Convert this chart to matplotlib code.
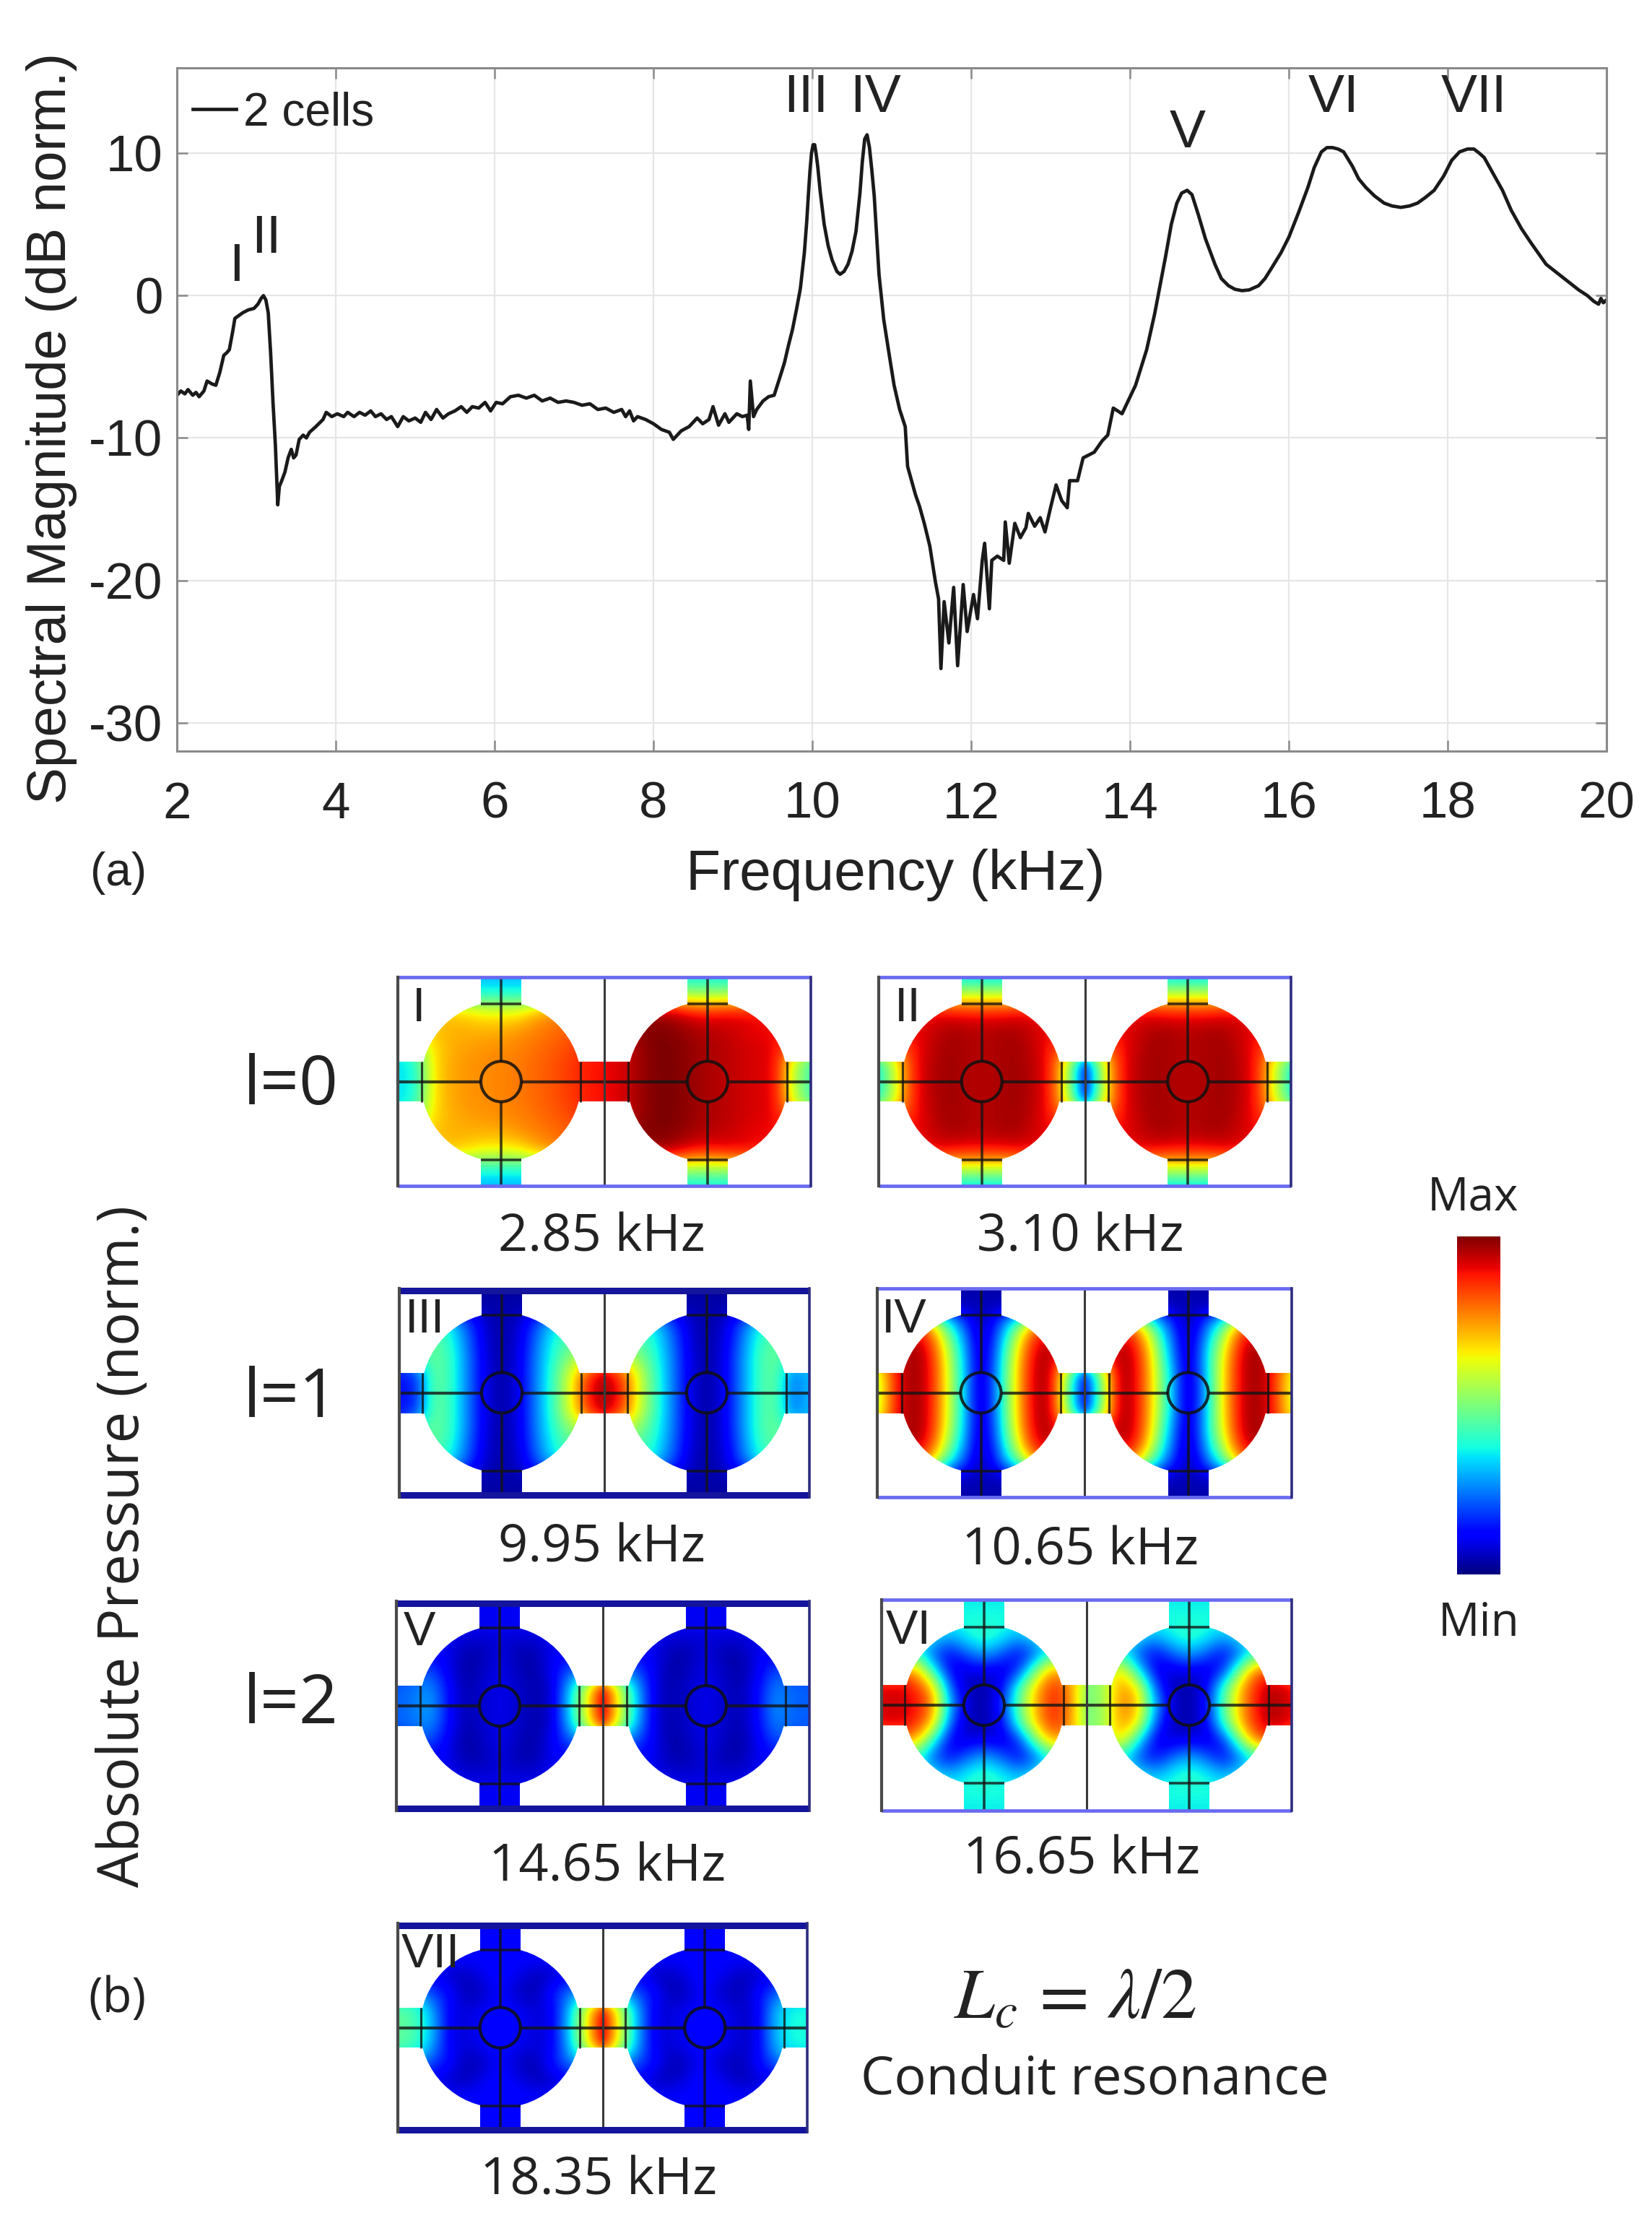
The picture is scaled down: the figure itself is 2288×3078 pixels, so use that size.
import numpy as np
import matplotlib
matplotlib.use("Agg")
import matplotlib.pyplot as plt
from matplotlib.patches import Circle, Rectangle
from matplotlib import cm

W_PX = 2288
H_PX = 3078

# ---------- spectrum, panel (a) ----------
freq_khz = [
    2.00, 2.05, 2.10, 2.14, 2.20, 2.24, 2.28, 2.34, 2.38, 2.44, 2.49, 2.54, 2.59, 2.63, 2.66, 2.70, 2.73, 2.78, 2.83, 2.90,
    2.97, 3.02, 3.06, 3.09, 3.12, 3.15, 3.18, 3.21, 3.24, 3.27, 3.29, 3.32, 3.36, 3.40, 3.44, 3.47, 3.50, 3.54, 3.59, 3.63,
    3.67, 3.75, 3.84, 3.88, 3.95, 4.02, 4.10, 4.15, 4.23, 4.30, 4.37, 4.44, 4.50, 4.57, 4.64, 4.70, 4.78, 4.85, 4.92, 5.00,
    5.07, 5.13, 5.20, 5.27, 5.35, 5.42, 5.50, 5.58, 5.65, 5.72, 5.80, 5.88, 5.95, 6.02, 6.10, 6.20, 6.30, 6.40, 6.50, 6.60,
    6.70, 6.80, 6.90, 7.00, 7.10, 7.20, 7.30, 7.40, 7.50, 7.60, 7.65, 7.70, 7.75, 7.80, 7.90, 8.00, 8.10, 8.20, 8.25, 8.35,
    8.45, 8.55, 8.62, 8.70, 8.75, 8.82, 8.90, 8.95, 9.05, 9.12, 9.18, 9.20, 9.22, 9.26, 9.30, 9.38, 9.45, 9.52, 9.60, 9.65,
    9.70, 9.75, 9.80, 9.85, 9.90, 9.93, 9.95, 9.97, 9.99, 10.01, 10.03, 10.05, 10.07, 10.10, 10.15, 10.20, 10.25, 10.31, 10.35, 10.40,
    10.45, 10.50, 10.55, 10.60, 10.63, 10.66, 10.69, 10.72, 10.75, 10.78, 10.84, 10.90, 10.97, 11.03, 11.10, 11.17,
    11.20, 11.30, 11.35, 11.41, 11.48, 11.55, 11.59, 11.62, 11.66, 11.72, 11.78, 11.83, 11.90, 11.95, 12.03, 12.08, 12.14, 12.17, 12.23, 12.26,
    12.33, 12.41, 12.43, 12.48, 12.55, 12.62, 12.69, 12.72, 12.80, 12.87, 12.93, 13.00, 13.07, 13.14, 13.21, 13.24, 13.34, 13.41, 13.55, 13.65,
    13.72, 13.79, 13.90, 14.07, 14.21, 14.31, 14.45, 14.52, 14.59, 14.65, 14.72, 14.78, 14.86, 14.95, 15.07, 15.15, 15.24, 15.32, 15.41, 15.50,
    15.62, 15.70, 15.79, 15.90, 16.00, 16.12, 16.24, 16.32, 16.41, 16.48, 16.55, 16.62, 16.69, 16.80, 16.88, 16.97, 17.08, 17.20, 17.30, 17.41,
    17.52, 17.62, 17.72, 17.83, 17.95, 18.05, 18.15, 18.25, 18.33, 18.40, 18.46, 18.55, 18.69, 18.80, 18.93, 19.05, 19.24, 19.40, 19.55, 19.65,
    19.76, 19.84, 19.90, 19.93, 19.96, 20.00,
]
mag_db = [
    -7.0, -6.7, -6.9, -6.6, -7.0, -6.8, -7.1, -6.7, -6.0, -6.2, -6.3, -5.4, -4.2, -4.0, -3.8, -2.6, -1.6, -1.4, -1.2, -1.0,
    -0.9, -0.6, -0.2, 0.0, -0.3, -1.2, -4.0, -7.5, -10.5, -14.7, -13.4, -13.0, -12.4, -11.4, -10.8, -11.4, -11.2, -10.1, -9.8, -10.0,
    -9.6, -9.2, -8.7, -8.2, -8.5, -8.3, -8.5, -8.2, -8.5, -8.2, -8.4, -8.1, -8.5, -8.3, -8.7, -8.5, -9.2, -8.5, -8.8, -8.6,
    -8.9, -8.2, -8.7, -8.0, -8.6, -8.3, -8.1, -7.8, -8.2, -7.8, -7.9, -7.5, -8.1, -7.5, -7.6, -7.1, -7.0, -7.2, -7.0, -7.4,
    -7.2, -7.5, -7.4, -7.5, -7.7, -7.6, -8.0, -7.9, -8.2, -8.0, -8.5, -8.1, -8.8, -8.5, -8.7, -9.0, -9.4, -9.6, -10.1, -9.5,
    -9.2, -8.6, -9.0, -8.7, -7.8, -9.1, -8.3, -8.9, -8.3, -8.5, -8.4, -9.4, -6.0, -8.5, -8.0, -7.4, -7.1, -7.0, -5.6, -4.7,
    -3.5, -2.4, -1.0, 0.5, 3.0, 5.2, 7.0, 8.7, 10.0, 10.6, 10.6, 9.9, 9.0, 7.3, 5.0, 3.5, 2.5, 1.7, 1.5, 1.7,
    2.2, 3.1, 4.5, 7.2, 9.4, 11.0, 11.3, 10.4, 8.8, 7.0, 1.5, -1.7, -4.2, -6.3, -8.0, -9.2,
    -12.0, -14.0, -14.8, -16.0, -17.6, -20.1, -21.3, -26.2, -21.5, -24.4, -20.5, -26.0, -20.3, -23.6, -21.0, -22.7, -18.6, -17.4, -22.0, -18.6,
    -18.3, -18.6, -15.9, -18.8, -16.0, -17.0, -16.3, -15.3, -16.2, -15.6, -16.6, -14.9, -13.3, -14.4, -14.9, -13.0, -13.0, -11.4, -11.0, -10.2,
    -9.8, -7.9, -8.3, -6.3, -3.8, -1.3, 2.8, 5.0, 6.5, 7.2, 7.4, 7.1, 5.7, 4.0, 2.2, 1.2, 0.7, 0.45, 0.35, 0.4,
    0.7, 1.2, 2.0, 3.0, 4.1, 5.8, 7.6, 9.0, 10.1, 10.4, 10.4, 10.3, 10.1, 9.1, 8.2, 7.6, 7.0, 6.5, 6.3, 6.2,
    6.3, 6.5, 6.9, 7.4, 8.4, 9.5, 10.1, 10.3, 10.3, 10.0, 9.7, 8.8, 7.4, 6.0, 4.7, 3.7, 2.2, 1.5, 0.85, 0.4,
    0.0, -0.4, -0.6, -0.2, -0.5, -0.3,
]
x_ticks = [2, 4, 6, 8, 10, 12, 14, 16, 18, 20]
y_ticks = [-30, -20, -10, 0, 10]
peak_names = ["I", "II", "III", "IV", "V", "VI", "VII"]
peak_freqs = [2.75, 3.13, 9.92, 10.80, 14.72, 16.56, 18.33]
peak_levels = [2.0, 4.0, 13.9, 13.9, 11.4, 13.9, 13.9]

# ---------- pressure fields, panel (b), in % of the colour scale ----------
# one cell: 7 rows from the centre line up to the frame, 13 columns left to right
I_left = [
    [35, 37, 66, 73, 75, 76, 77, 78, 80, 82, 85, 88, 90],
    [35, 37, 66, 73, 75, 76, 77, 78, 80, 82, 85, 88, 90],
    [36, 50, 67, 72, 74, 75, 76, 77, 79, 81, 83, 86, 88],
    [60, 65, 70, 72, 72, 72, 72, 75, 77, 79, 81, 84, 84],
    [70, 70, 70, 70, 68, 64, 64, 64, 72, 76, 78, 80, 80],
    [40, 40, 40, 40, 40, 40, 40, 40, 40, 40, 40, 40, 40],
    [30, 30, 30, 30, 30, 30, 30, 30, 30, 30, 30, 30, 30],
]
I_right = [
    [90, 92, 97, 100, 100, 98, 96, 95, 93, 92, 90, 58, 42],
    [90, 92, 97, 100, 100, 98, 96, 95, 93, 92, 90, 58, 42],
    [90, 92, 97, 100, 100, 98, 96, 95, 93, 92, 90, 80, 60],
    [95, 97, 99, 100, 99, 97, 95, 94, 92, 90, 90, 85, 80],
    [97, 97, 97, 97, 95, 90, 88, 90, 90, 90, 90, 90, 90],
    [58, 58, 58, 58, 58, 55, 55, 55, 58, 58, 58, 58, 58],
    [36, 36, 36, 36, 36, 36, 36, 36, 36, 36, 36, 36, 36],
]
II_left = [
    [36, 62, 88, 95, 97, 96, 95, 96, 97, 95, 88, 58, 12],
    [36, 62, 88, 95, 97, 96, 95, 96, 97, 95, 88, 58, 12],
    [70, 80, 88, 94, 97, 96, 95, 96, 97, 94, 88, 80, 70],
    [90, 90, 90, 93, 96, 96, 95, 96, 96, 93, 90, 90, 90],
    [90, 90, 90, 90, 90, 88, 88, 88, 90, 90, 90, 90, 90],
    [60, 60, 60, 60, 60, 60, 60, 60, 60, 60, 60, 60, 60],
    [34, 34, 34, 34, 34, 34, 34, 34, 34, 34, 34, 34, 34],
]
II_right = [
    [12, 58, 88, 95, 97, 96, 95, 96, 97, 95, 88, 62, 36],
    [12, 58, 88, 95, 97, 96, 95, 96, 97, 95, 88, 62, 36],
    [70, 80, 88, 94, 97, 96, 95, 96, 97, 94, 88, 80, 70],
    [90, 90, 90, 93, 96, 96, 95, 96, 96, 93, 90, 90, 90],
    [90, 90, 90, 90, 90, 88, 88, 88, 90, 90, 90, 90, 90],
    [60, 60, 60, 60, 60, 60, 60, 60, 60, 60, 60, 60, 60],
    [34, 34, 34, 34, 34, 34, 34, 34, 34, 34, 34, 34, 34],
]
III_left = [
    [14, 15, 48, 42, 25, 9, 3, 9, 25, 42, 62, 88, 97],
    [14, 15, 48, 42, 25, 9, 3, 9, 25, 42, 62, 86, 97],
    [20, 40, 48, 42, 25, 9, 3, 9, 25, 40, 52, 60, 70],
    [40, 45, 47, 40, 23, 8, 3, 8, 23, 38, 45, 50, 50],
    [40, 40, 42, 36, 20, 7, 3, 7, 20, 34, 40, 40, 40],
    [4, 4, 4, 4, 4, 4, 4, 4, 4, 4, 4, 4, 4],
    [3, 3, 3, 3, 3, 3, 3, 3, 3, 3, 3, 3, 3],
]
III_right = [
    [97, 88, 62, 42, 25, 9, 3, 9, 25, 42, 48, 22, 32],
    [97, 86, 62, 42, 25, 9, 3, 9, 25, 42, 48, 22, 32],
    [70, 60, 52, 40, 25, 9, 3, 9, 25, 42, 48, 40, 30],
    [50, 50, 45, 38, 23, 8, 3, 8, 23, 40, 47, 45, 40],
    [40, 40, 40, 34, 20, 7, 3, 7, 20, 36, 42, 40, 40],
    [4, 4, 4, 4, 4, 4, 4, 4, 4, 4, 4, 4, 4],
    [3, 3, 3, 3, 3, 3, 3, 3, 3, 3, 3, 3, 3],
]
IV_left = [
    [55, 88, 98, 92, 66, 33, 3, 30, 66, 93, 97, 50, 10],
    [55, 88, 98, 92, 66, 33, 3, 30, 66, 93, 97, 50, 10],
    [70, 90, 98, 92, 64, 32, 3, 28, 64, 92, 97, 80, 60],
    [85, 95, 97, 88, 58, 28, 3, 24, 58, 88, 95, 90, 85],
    [60, 75, 80, 75, 42, 20, 3, 18, 42, 72, 80, 70, 60],
    [5, 5, 5, 5, 5, 5, 5, 5, 5, 5, 5, 5, 5],
    [4, 4, 4, 4, 4, 4, 4, 4, 4, 4, 4, 4, 4],
]
IV_right = [
    [10, 50, 97, 92, 66, 33, 3, 30, 66, 92, 98, 88, 60],
    [10, 50, 97, 92, 66, 33, 3, 30, 66, 92, 98, 88, 60],
    [60, 80, 97, 92, 64, 28, 3, 32, 64, 92, 98, 90, 70],
    [85, 90, 95, 88, 58, 24, 3, 28, 58, 88, 97, 95, 85],
    [60, 70, 80, 72, 42, 18, 3, 20, 42, 75, 80, 75, 60],
    [5, 5, 5, 5, 5, 5, 5, 5, 5, 5, 5, 5, 5],
    [4, 4, 4, 4, 4, 4, 4, 4, 4, 4, 4, 4, 4],
]
V_left = [
    [22, 24, 30, 13, 4, 7, 10, 7, 4, 6, 32, 60, 95],
    [22, 24, 28, 13, 4, 7, 10, 7, 4, 6, 30, 60, 95],
    [15, 20, 20, 10, 3, 6, 10, 6, 3, 10, 20, 25, 40],
    [12, 12, 12, 10, 4, 4, 9, 4, 4, 10, 12, 12, 12],
    [11, 11, 11, 10, 8, 8, 8, 8, 8, 10, 11, 11, 11],
    [11, 11, 11, 11, 11, 11, 11, 11, 11, 11, 11, 11, 11],
    [10, 10, 10, 10, 10, 10, 10, 10, 10, 10, 10, 10, 10],
]
V_right = [
    [95, 60, 32, 8, 4, 7, 10, 7, 4, 12, 28, 22, 22],
    [95, 60, 30, 8, 4, 7, 10, 7, 4, 12, 26, 22, 22],
    [40, 25, 20, 10, 3, 6, 10, 6, 3, 10, 20, 20, 18],
    [12, 12, 12, 10, 4, 4, 9, 4, 4, 10, 12, 12, 12],
    [11, 11, 11, 10, 8, 8, 8, 8, 8, 10, 11, 11, 11],
    [11, 11, 11, 11, 11, 11, 11, 11, 11, 11, 11, 11, 11],
    [10, 10, 10, 10, 10, 10, 10, 10, 10, 10, 10, 10, 10],
]
VI_left = [
    [92, 93, 90, 78, 30, 8, 3, 15, 45, 72, 88, 78, 50],
    [92, 93, 88, 72, 22, 5, 3, 10, 42, 70, 88, 78, 50],
    [70, 75, 75, 40, 10, 8, 10, 8, 15, 50, 76, 70, 60],
    [35, 35, 40, 20, 12, 22, 30, 22, 12, 20, 40, 38, 38],
    [38, 38, 38, 38, 30, 38, 42, 38, 30, 38, 38, 38, 38],
    [38, 38, 38, 38, 38, 38, 38, 38, 38, 38, 38, 38, 38],
    [36, 36, 36, 36, 36, 36, 36, 36, 36, 36, 36, 36, 36],
]
VI_right = [
    [50, 53, 78, 72, 30, 8, 3, 12, 45, 72, 90, 97, 90],
    [50, 53, 76, 68, 22, 5, 3, 10, 42, 72, 90, 97, 90],
    [50, 55, 70, 38, 10, 8, 10, 8, 15, 52, 82, 80, 70],
    [35, 35, 38, 20, 12, 22, 30, 22, 12, 22, 42, 38, 38],
    [38, 38, 38, 38, 30, 38, 42, 38, 30, 38, 38, 38, 38],
    [38, 38, 38, 38, 38, 38, 38, 38, 38, 38, 38, 38, 38],
    [36, 36, 36, 36, 36, 36, 36, 36, 36, 36, 36, 36, 36],
]
VII_left = [
    [47, 44, 32, 10, 8, 11, 13, 11, 8, 9, 32, 62, 95],
    [47, 44, 30, 10, 8, 11, 13, 11, 8, 9, 30, 62, 95],
    [30, 30, 18, 14, 4, 6, 12, 6, 4, 14, 24, 30, 40],
    [12, 12, 12, 6, 5, 10, 13, 10, 5, 6, 12, 12, 12],
    [12, 12, 12, 12, 12, 12, 12, 12, 12, 12, 12, 12, 12],
    [11, 11, 11, 11, 11, 11, 11, 11, 11, 11, 11, 11, 11],
    [11, 11, 11, 11, 11, 11, 11, 11, 11, 11, 11, 11, 11],
]
VII_right = [
    [95, 60, 30, 9, 8, 11, 13, 11, 7, 8, 30, 38, 38],
    [95, 60, 30, 9, 8, 11, 13, 11, 7, 8, 30, 38, 38],
    [40, 30, 20, 14, 4, 6, 12, 6, 4, 12, 20, 30, 30],
    [12, 12, 12, 6, 5, 10, 13, 10, 5, 6, 12, 12, 12],
    [12, 12, 12, 12, 12, 12, 12, 12, 12, 12, 12, 12, 12],
    [11, 11, 11, 11, 11, 11, 11, 11, 11, 11, 11, 11, 11],
    [11, 11, 11, 11, 11, 11, 11, 11, 11, 11, 11, 11, 11],
]

# name, left field, right field, caption, x0, x1, y0, y1 (pixels), heavy blue border, label offset
mode_panels = [
    ("I", I_left, I_right, "2.85 kHz", 551, 1123, 1353, 1642, False, 20),
    ("II", II_left, II_right, "3.10 kHz", 1217, 1788, 1353, 1642, False, 22),
    ("III", III_left, III_right, "9.95 kHz", 553, 1121, 1784, 2073, True, 8),
    ("IV", IV_left, IV_right, "10.65 kHz", 1215, 1789, 1784, 2073, False, 6),
    ("V", V_left, V_right, "14.65 kHz", 549, 1121, 2217, 2507, True, 10),
    ("VI", VI_left, VI_right, "16.65 kHz", 1221, 1789, 2215, 2507, False, 6),
    ("VII", VII_left, VII_right, "18.35 kHz", 551, 1118, 2663, 2952, True, 5),
]
caption_centres = [(833, 1714), (1496, 1714), (833, 2144), (1496, 2148), (841, 2586), (1498, 2576), (829, 3020)]

AXIS_FONT = "Liberation Sans"
NOTE_FONT = "Open Sans"
DARK = "#222222"

plt.rcParams["mathtext.fontset"] = "stix"
plt.rcParams["axes.unicode_minus"] = False
fig = plt.figure(figsize=(W_PX / 100, H_PX / 100), dpi=100, facecolor="white")


def px_axes(x0, y0, x1, y1):
    return fig.add_axes([x0 / W_PX, 1 - y1 / H_PX, (x1 - x0) / W_PX, (y1 - y0) / H_PX])


def px_text(x, y, s, size, font=NOTE_FONT, **kw):
    fig.text(x / W_PX, 1 - y / H_PX, s, fontsize=size, family=font, color=DARK,
             ha="center", va="center", **kw)


# ---------- panel (a) ----------
ax = px_axes(245, 94, 2225, 1040)
ax.plot(freq_khz, mag_db, color="#1a1a1a", lw=3.4, label="2 cells")
ax.set_xlim(2, 20)
ax.set_ylim(-32, 16)
ax.set_xticks(x_ticks)
ax.set_yticks(y_ticks)
ax.grid(True, color="#e6e6e6", lw=1.6)
ax.set_axisbelow(True)
ax.tick_params(direction="in", length=11, width=1.8, color="#8a8a8a", top=True, right=True,
               labelsize=51, labelcolor=DARK)
ax.tick_params(axis="x", pad=30)
ax.tick_params(axis="y", pad=14)
for lab in ax.get_xticklabels() + ax.get_yticklabels():
    lab.set_family(AXIS_FONT)
for spine in ax.spines.values():
    spine.set_color("#8a8a8a")
    spine.set_linewidth(2.2)
for name, f, level in zip(peak_names, peak_freqs, peak_levels):
    ax.text(f, level, name, fontsize=54, family=AXIS_FONT, color=DARK, ha="center", va="center")
leg = ax.legend(loc="upper left", frameon=False, prop={"family": AXIS_FONT, "size": 46},
                handlelength=0.95, handletextpad=0.15, borderaxespad=0.0,
                bbox_to_anchor=(-0.002, 0.993))
leg.get_texts()[0].set_color(DARK)

px_text(72, 593, "Spectral Magnitude (dB norm.)", 55, AXIS_FONT, rotation=90)
px_text(1240, 1211, "Frequency (kHz)", 56.5, AXIS_FONT)
px_text(164, 1209, "(a)", 46, AXIS_FONT)

# ---------- panel (b) ----------
R_BULB = 111
R_RING = 28
CH_HALF = 28
ROW_STEP = 24


def draw_cell(pax, field, cell_x0, cell_w, half_h):
    rows = np.array(field, dtype=float) / 100
    grid = np.vstack([rows[::-1], rows[1:]])
    step_x = cell_w / 12
    cx = cell_x0 + cell_w / 2
    ext = (cell_x0 - step_x / 2, cell_x0 + cell_w + step_x / 2,
           -(6.5 * ROW_STEP), 6.5 * ROW_STEP)
    shapes = [
        Circle((cx, 0), R_BULB, transform=pax.transData),
        Rectangle((cell_x0, -CH_HALF), cell_w, 2 * CH_HALF, transform=pax.transData),
        Rectangle((cx - CH_HALF, -half_h), 2 * CH_HALF, 2 * half_h, transform=pax.transData),
    ]
    for shape in shapes:
        im = pax.imshow(grid, extent=ext, origin="upper", cmap="jet", vmin=0, vmax=1,
                        aspect="auto", interpolation="bicubic", zorder=1)
        im.set_clip_path(shape)

    line = dict(color="#141414", alpha=0.8, zorder=3, solid_capstyle="butt")
    pax.plot([cx, cx], [R_RING, half_h], lw=2.6, **line)
    pax.plot([cx, cx], [-half_h, -R_RING], lw=2.6, **line)
    pax.plot([cell_x0, cx - R_RING], [0, 0], lw=3.0, **line)
    pax.plot([cx + R_RING, cell_x0 + cell_w], [0, 0], lw=3.0, **line)
    for sign in (-1, 1):
        pax.plot([cx - CH_HALF, cx + CH_HALF], [sign * (R_BULB - 3)] * 2, lw=2.6, **line)
        pax.plot([cx + sign * (R_BULB - 1)] * 2, [-CH_HALF, CH_HALF], lw=2.2, **line)
    pax.add_patch(Circle((cx, 0), R_RING, fill=False, ec="#101010", lw=3.0, alpha=0.85, zorder=4))


for panel, centre in zip(mode_panels, caption_centres):
    name, left, right, caption, x0, x1, y0, y1, heavy, lab_dx = panel
    pw = x1 - x0
    half = (y1 - y0) / 2
    pax = px_axes(x0, y0, x1, y1)
    pax.axis("off")
    draw_cell(pax, left, 0, pw / 2, half)
    draw_cell(pax, right, pw / 2, pw / 2, half)
    pax.set_xlim(0, pw)
    pax.set_ylim(-half, half)

    edge = "#14149c" if heavy else "#6a6af0"
    edge_lw = 6.5 if heavy else 3.4
    inset = 3 if heavy else 0
    for y in (-half + inset, half - inset):
        pax.plot([0, pw], [y, y], color=edge, lw=edge_lw, clip_on=False, zorder=5, solid_capstyle="butt")
    pax.plot([0, 0], [-half, half], color="#4a4a4a", lw=3.0, clip_on=False, zorder=5)
    pax.plot([pw, pw], [-half, half], color="#2c2c80", lw=2.6, clip_on=False, zorder=5)
    pax.plot([pw / 2, pw / 2], [-half, half], color="#3a3a3a", lw=2.2, zorder=3)
    pax.text(lab_dx, half - 44, name, fontsize=48, family=AXIS_FONT, color=DARK,
             ha="left", va="center", zorder=6)
    px_text(centre[0], centre[1], caption, 52)

px_text(403, 1504, "l=0", 68)
px_text(403, 1937, "l=1", 68)
px_text(403, 2361, "l=2", 68)
px_text(172, 2141, "Absolute Pressure (norm.)", 56, rotation=90)
px_text(162, 2768, "(b)", 48)
px_text(1489, 2772, r"$L_c\,=\,\lambda/2$", 72, font="STIXGeneral")
px_text(1516, 2880, "Conduit resonance", 53)

# colour bar
cax = px_axes(2018, 1712, 2078, 2180)
cbar = fig.colorbar(cm.ScalarMappable(cmap="jet"), cax=cax)
cbar.set_ticks([])
cbar.outline.set_visible(False)
px_text(2040, 1659, "Max", 46)
px_text(2048, 2248, "Min", 46)

plt.savefig("out.png", dpi=100)
plt.close()
